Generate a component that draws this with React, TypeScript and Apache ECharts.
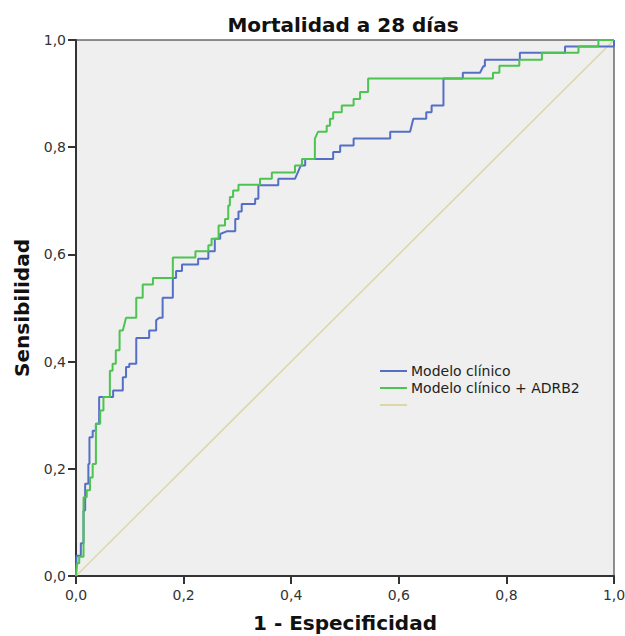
import React, { useEffect, useRef } from "react";
import * as echarts from "echarts";

const chartTitle = "Mortalidad a 28 días";
const xAxisName = "1 - Especificidad";
const yAxisName = "Sensibilidad";
const tickValues = [0, 0.2, 0.4, 0.6, 0.8, 1.0];

const seriesNames = ["Modelo clínico", "Modelo clínico + ADRB2", "Referencia"];

// Modelo clínico: 1 - specificity (FPR) and sensitivity (TPR) at each corner of the step curve
const clinicoFPR = [
  0, 0.001, 0.009, 0.009, 0.014, 0.014, 0.017, 0.017, 0.023, 0.023, 0.025, 0.025, 0.031, 0.031,
  0.037, 0.037, 0.043, 0.043, 0.069, 0.069, 0.087, 0.087, 0.093, 0.093, 0.099, 0.099, 0.112, 0.112,
  0.136, 0.136, 0.149, 0.149, 0.155, 0.161, 0.161, 0.18, 0.18, 0.186, 0.186, 0.197, 0.197, 0.227,
  0.227, 0.246, 0.246, 0.258, 0.258, 0.268, 0.268, 0.28, 0.296, 0.296, 0.302, 0.302, 0.308, 0.308,
  0.333, 0.333, 0.339, 0.339, 0.376, 0.376, 0.407, 0.418, 0.426, 0.426, 0.478, 0.478, 0.491, 0.491,
  0.516, 0.516, 0.584, 0.584, 0.621, 0.627, 0.651, 0.651, 0.661, 0.661, 0.683, 0.683, 0.719, 0.719,
  0.751, 0.757, 0.76, 0.76, 0.825, 0.825, 0.909, 0.909, 1.0, 1.0,
];
const clinicoTPR = [
  0, 0.038, 0.038, 0.061, 0.061, 0.122, 0.122, 0.172, 0.172, 0.209, 0.209, 0.259, 0.259, 0.271,
  0.271, 0.284, 0.284, 0.334, 0.334, 0.346, 0.346, 0.371, 0.371, 0.39, 0.39, 0.396, 0.396, 0.444,
  0.444, 0.458, 0.458, 0.477, 0.482, 0.482, 0.519, 0.519, 0.556, 0.556, 0.569, 0.569, 0.581, 0.581,
  0.592, 0.592, 0.606, 0.606, 0.629, 0.629, 0.638, 0.643, 0.643, 0.666, 0.666, 0.68, 0.68, 0.694,
  0.694, 0.704, 0.704, 0.729, 0.729, 0.741, 0.741, 0.766, 0.766, 0.778, 0.778, 0.791, 0.791, 0.803,
  0.803, 0.816, 0.816, 0.829, 0.829, 0.853, 0.853, 0.865, 0.865, 0.878, 0.878, 0.928, 0.928, 0.939,
  0.939, 0.951, 0.951, 0.963, 0.963, 0.976, 0.976, 0.988, 0.988, 1.0,
];

// Modelo clínico + ADRB2
const adrb2FPR = [
  0, 0.002, 0.006, 0.006, 0.014, 0.014, 0.02, 0.02, 0.026, 0.026, 0.031, 0.031, 0.037, 0.037,
  0.045, 0.045, 0.051, 0.051, 0.063, 0.063, 0.068, 0.068, 0.074, 0.074, 0.081, 0.081, 0.087, 0.093,
  0.112, 0.112, 0.124, 0.124, 0.143, 0.143, 0.18, 0.18, 0.222, 0.222, 0.246, 0.246, 0.252, 0.252,
  0.265, 0.265, 0.277, 0.277, 0.283, 0.283, 0.286, 0.286, 0.292, 0.292, 0.302, 0.302, 0.342, 0.342,
  0.364, 0.364, 0.407, 0.407, 0.42, 0.42, 0.444, 0.444, 0.45, 0.466, 0.466, 0.472, 0.472, 0.478,
  0.478, 0.494, 0.494, 0.516, 0.516, 0.528, 0.528, 0.543, 0.543, 0.775, 0.775, 0.787, 0.787, 0.824,
  0.824, 0.866, 0.866, 0.934, 0.934, 0.971, 0.971, 1.0,
];
const adrb2TPR = [
  0, 0.024, 0.024, 0.036, 0.036, 0.147, 0.147, 0.16, 0.16, 0.184, 0.184, 0.209, 0.209, 0.284,
  0.284, 0.309, 0.309, 0.334, 0.334, 0.383, 0.383, 0.396, 0.396, 0.421, 0.421, 0.458, 0.458, 0.482,
  0.482, 0.519, 0.519, 0.544, 0.544, 0.556, 0.556, 0.594, 0.594, 0.606, 0.606, 0.617, 0.617, 0.629,
  0.629, 0.654, 0.654, 0.666, 0.666, 0.691, 0.691, 0.707, 0.707, 0.719, 0.719, 0.73, 0.73, 0.741,
  0.741, 0.753, 0.753, 0.766, 0.766, 0.778, 0.778, 0.816, 0.829, 0.829, 0.84, 0.84, 0.853, 0.853,
  0.865, 0.865, 0.878, 0.878, 0.89, 0.89, 0.903, 0.903, 0.928, 0.928, 0.939, 0.939, 0.952, 0.952,
  0.963, 0.963, 0.976, 0.976, 0.988, 0.988, 1.0, 1.0,
];

const referenceFPR = [0, 1];
const referenceTPR = [0, 1];

const FONT = "DejaVu Sans";
const fmt = (v: number) => v.toFixed(1).replace(".", ",");
const zip = (xs: number[], ys: number[]) => xs.map((x, i) => [x, ys[i]]);

export default function App() {
  const ref = useRef<HTMLDivElement>(null);

  useEffect(() => {
    if (!ref.current) return;
    const chart = echarts.init(ref.current, undefined, { renderer: "svg" });
    const axisCommon = {
      type: "value" as const,
      min: tickValues[0],
      max: tickValues[tickValues.length - 1],
      interval: 0.2,
      nameLocation: "middle" as const,
      nameTextStyle: { fontFamily: FONT, fontSize: 20, fontWeight: "bold", color: "#111" },
      axisLine: { show: true, onZero: false, lineStyle: { color: "#333", width: 2 } },
      axisTick: { show: true, inside: false, length: 8, lineStyle: { color: "#333", width: 2 } },
      splitLine: { show: false },
      axisLabel: { fontFamily: FONT, fontSize: 14, color: "#333", formatter: fmt },
    };
    chart.setOption({
      animation: false,
      backgroundColor: "#ffffff",
      title: {
        text: chartTitle,
        left: 338,
        textAlign: "center",
        top: 10,
        textStyle: { fontFamily: FONT, fontSize: 20, fontWeight: "bold", color: "#111" },
      },
      grid: {
        left: 76,
        right: 11,
        top: 40,
        bottom: 60,
        outerBoundsMode: "none",
        containLabel: false,
        show: true,
        backgroundColor: "#efefef",
        borderColor: "#222",
        borderWidth: 1,
      },
      legend: {
        orient: "vertical",
        left: 375,
        top: 359,
        icon: "rect",
        itemWidth: 27,
        itemHeight: 2,
        itemGap: 3,
        data: seriesNames,
        formatter: (name: string) => (name === seriesNames[2] ? "\u00a0" : name),
        textStyle: { fontFamily: FONT, fontSize: 14, lineHeight: 14, color: "#222", padding: [0, 0, 0, -1] },
      },
      xAxis: {
        ...axisCommon,
        name: xAxisName,
        nameGap: 37,
        axisLabel: { ...axisCommon.axisLabel, margin: 12 },
      },
      yAxis: {
        ...axisCommon,
        name: yAxisName,
        nameGap: 44,
        axisLabel: { ...axisCommon.axisLabel, margin: 10 },
      },
      series: [
        {
          name: seriesNames[2],
          type: "line",
          data: zip(referenceFPR, referenceTPR),
          symbol: "none",
          lineStyle: { color: "#dcd7a6", width: 1.5 },
          itemStyle: { color: "#dcd7a6" },
          z: 1,
        },
        {
          name: seriesNames[0],
          type: "line",
          data: zip(clinicoFPR, clinicoTPR),
          symbol: "none",
          lineStyle: { color: "#566fc6", width: 2 },
          itemStyle: { color: "#566fc6" },
          z: 2,
        },
        {
          name: seriesNames[1],
          type: "line",
          data: zip(adrb2FPR, adrb2TPR),
          symbol: "none",
          lineStyle: { color: "#4cc450", width: 2 },
          itemStyle: { color: "#4cc450" },
          z: 3,
        },
      ],
    });
    return () => chart.dispose();
  }, []);

  return (
    <div
      ref={ref}
      style={{ position: "fixed", left: 0, top: 0, width: 625, height: 636 }}
    />
  );
}
